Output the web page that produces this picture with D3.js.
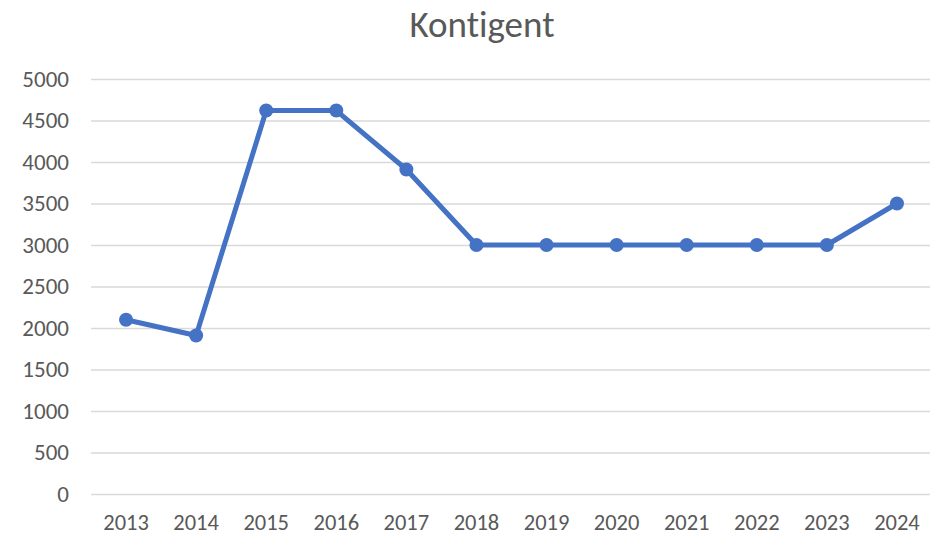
<!DOCTYPE html>
<html>
<head>
<meta charset="utf-8">
<script src="https://cdn.jsdelivr.net/npm/d3@7"></script>
<style>
  body { margin: 0; background: #fff; }
  text { font-family: Carlito, Calibri, "Open Sans", sans-serif; fill: #595959; font-variant-ligatures: none; }
</style>
</head>
<body>
<div id="chart"></div>
<script>
(function() {
  const years = ['2013', '2014', '2015', '2016', '2017', '2018', '2019', '2020', '2021', '2022', '2023', '2024'];
  const values = [2100, 1910, 4620, 4620, 3910, 3000, 3000, 3000, 3000, 3000, 3000, 3500];
  const yTicks = [0, 500, 1000, 1500, 2000, 2500, 3000, 3500, 4000, 4500, 5000];

  const width = 930, height = 536;
  const margin = { top: 79, left: 91, right: -2, bottom: 42 };

  const svg = d3.select('#chart')
    .append('svg')
      .attr('width', width)
      .attr('height', height);

  const x = d3.scaleBand()
    .domain(years)
    .range([margin.left, width - margin.right]);

  const y = d3.scaleLinear()
    .domain([0, 5000])
    .range([height - margin.bottom, margin.top]);

  // title
  svg.append('text')
    .attr('x', 482)
    .attr('y', 37)
    .attr('text-anchor', 'middle')
    .style('font-size', '37px')
    .text('Kontigent');

  // gridlines + y labels
  const yAxis = svg.append('g')
    .attr('transform', `translate(${margin.left},0)`)
    .call(d3.axisLeft(y).tickValues(yTicks).tickFormat(d3.format('d'))
      .tickSize(-(width - margin.right - margin.left)).tickPadding(22));
  yAxis.select('.domain').remove();
  yAxis.selectAll('.tick line').attr('stroke', '#d9d9d9').attr('stroke-width', 1.5);
  yAxis.selectAll('.tick text').style('font-size', '23px').attr('fill', '#595959');

  // x labels
  const xAxis = svg.append('g')
    .attr('transform', `translate(0,${height - margin.bottom})`)
    .call(d3.axisBottom(x).tickSize(0).tickPadding(20));
  xAxis.select('.domain').remove();
  xAxis.selectAll('.tick text').style('font-size', '22.5px').attr('fill', '#595959');

  const pts = years.map((d, i) => ({ year: d, value: values[i] }));

  const line = d3.line()
    .x(d => x(d.year) + x.bandwidth() / 2)
    .y(d => y(d.value));

  svg.append('path')
    .datum(pts)
    .attr('fill', 'none')
    .attr('stroke', '#4472c4')
    .attr('stroke-width', 5)
    .attr('stroke-linejoin', 'round')
    .attr('d', line);

  svg.selectAll('.dot')
    .data(pts)
    .enter().append('circle')
    .attr('class', 'dot')
    .attr('cx', d => x(d.year) + x.bandwidth() / 2)
    .attr('cy', d => y(d.value))
    .attr('r', 7)
    .attr('fill', '#4472c4');
})();
</script>
</body>
</html>
